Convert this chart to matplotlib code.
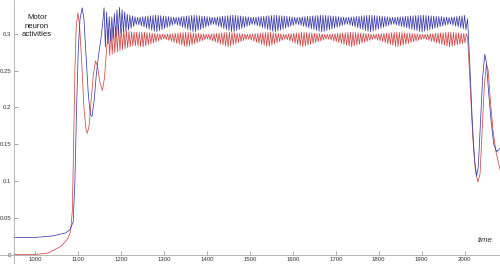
import numpy as np
import matplotlib
matplotlib.use("Agg")
import matplotlib.pyplot as plt

plt.rcParams['font.family'] = ['Liberation Sans', 'DejaVu Sans']

# transient start (time, value)
blue_head_t = [950, 1000, 1040, 1070, 1080, 1088, 1092, 1096, 1100, 1104, 1109, 1113,
               1118, 1123, 1128, 1132, 1137, 1142, 1147, 1152, 1156]
blue_head_v = [0.024, 0.024, 0.026, 0.030, 0.034, 0.045, 0.10, 0.20, 0.28, 0.32, 0.335, 0.32,
               0.27, 0.22, 0.19, 0.188, 0.21, 0.245, 0.27, 0.29, 0.31]
red_head_t = [950, 1000, 1030, 1060, 1075, 1082, 1086, 1089, 1092, 1095, 1099, 1103, 1108,
              1113, 1118, 1121, 1125, 1130, 1135, 1140, 1145, 1150, 1156, 1161, 1166]
red_head_v = [0.001, 0.001, 0.003, 0.012, 0.022, 0.032, 0.06, 0.15, 0.25, 0.31, 0.328, 0.31, 0.26,
              0.20, 0.17, 0.165, 0.175, 0.21, 0.245, 0.263, 0.255, 0.235, 0.223, 0.24, 0.28]

# envelope of the fast oscillation (upper / lower edge of the band)
blue_env_t = [1160, 1175, 1195, 1215, 1237, 1281, 1326, 1370, 1414, 1460, 1507, 1558,
              1609, 1668, 1726, 1780, 1833, 1900, 1965, 2005]
blue_hi = [0.335, 0.32, 0.336, 0.326, 0.322, 0.325, 0.322, 0.325, 0.322, 0.325, 0.322, 0.325,
           0.322, 0.325, 0.322, 0.325, 0.322, 0.325, 0.322, 0.325]
blue_lo = [0.28, 0.29, 0.30, 0.304, 0.313, 0.302, 0.313, 0.302, 0.313, 0.302, 0.313, 0.302,
           0.313, 0.302, 0.313, 0.302, 0.313, 0.302, 0.313, 0.305]
red_env_t = [1170, 1190, 1210, 1230, 1251, 1300, 1353, 1400, 1449, 1495, 1542, 1583,
             1623, 1680, 1737, 1790, 1842, 1905, 1965, 2005]
red_hi = [0.305, 0.31, 0.304, 0.302, 0.302, 0.299, 0.302, 0.299, 0.302, 0.299, 0.302, 0.299,
          0.302, 0.299, 0.302, 0.299, 0.302, 0.299, 0.302, 0.300]
red_lo = [0.27, 0.275, 0.28, 0.284, 0.282, 0.293, 0.282, 0.293, 0.282, 0.293, 0.282, 0.293,
          0.282, 0.293, 0.282, 0.293, 0.282, 0.293, 0.282, 0.288]
osc_period = 6.0

# after the input is switched off
blue_tail_t = [2007, 2012, 2018, 2023, 2028, 2032, 2037, 2042, 2047, 2051, 2056, 2062, 2068, 2075, 2083]
blue_tail_v = [0.32, 0.26, 0.18, 0.13, 0.107, 0.12, 0.18, 0.24, 0.272, 0.26, 0.22, 0.18, 0.15, 0.14, 0.145]
red_tail_t = [2007, 2013, 2019, 2025, 2031, 2036, 2041, 2046, 2051, 2055, 2060, 2066, 2073, 2083]
red_tail_v = [0.295, 0.23, 0.16, 0.115, 0.099, 0.11, 0.17, 0.23, 0.259, 0.25, 0.21, 0.17, 0.14, 0.115]

xticks = [1000, 1100, 1200, 1300, 1400, 1500, 1600, 1700, 1800, 1900, 2000]
yticks = [0, 0.05, 0.1, 0.15, 0.2, 0.25, 0.3]
ytick_labels = ['0', '0.05', '0.1', '0.15', '0.2', '0.25', '0.3']


def zigzag(env_t, hi, lo, period):
    t = np.arange(env_t[0], env_t[-1], period / 2)
    up = np.interp(t, env_t, hi)
    down = np.interp(t, env_t, lo)
    v = np.where(np.arange(len(t)) % 2 == 0, up, down)
    return t, v


def build(head_t, head_v, env_t, hi, lo, tail_t, tail_v):
    zt, zv = zigzag(env_t, hi, lo, osc_period)
    t = np.concatenate([head_t, zt, tail_t])
    v = np.concatenate([head_v, zv, tail_v])
    return t, v


bt, bv = build(blue_head_t, blue_head_v, blue_env_t, blue_hi, blue_lo, blue_tail_t, blue_tail_v)
rt, rv = build(red_head_t, red_head_v, red_env_t, red_hi, red_lo, red_tail_t, red_tail_v)

fig = plt.figure(figsize=(5, 2.64), dpi=100)
ax = fig.add_axes([0, 0, 1, 1])
ax.plot(rt, rv, color='#d04848', lw=0.55)
ax.plot(bt, bv, color='#3c3cae', lw=0.55)

ax.set_xlim(917.5, 2082.5)
ax.set_ylim(-0.012, 0.3455)

for s in ['top', 'right']:
    ax.spines[s].set_visible(False)
ax.spines['left'].set_position(('data', 950))
ax.spines['bottom'].set_position(('data', 0))
for s in ['left', 'bottom']:
    ax.spines[s].set_color('#aaaaaa')
    ax.spines[s].set_linewidth(0.6)

ax.set_xticks(xticks)
ax.set_xticklabels([str(x) for x in xticks])
ax.set_yticks(yticks)
ax.set_yticklabels(ytick_labels)
ax.tick_params(direction='in', length=3, width=0.5, color='#888888',
               labelsize=4.3, labelcolor='#333333')
ax.tick_params(axis='x', pad=1.5)
ax.tick_params(axis='y', pad=2)
for lbl in ax.get_xticklabels() + ax.get_yticklabels():
    lbl.set_clip_on(False)

# positions in pixels from the lower left corner
ax.text(37, 238, 'Motor\nneuron\nactivities', transform=None, ha='center', va='center',
        fontsize=5.6, color='#1a1a1a', linespacing=1.25)
ax.text(485, 23, 'time', transform=None, ha='center', va='center',
        fontsize=5.7, style='italic', color='#333333')

fig.savefig('out.png', dpi=100)
